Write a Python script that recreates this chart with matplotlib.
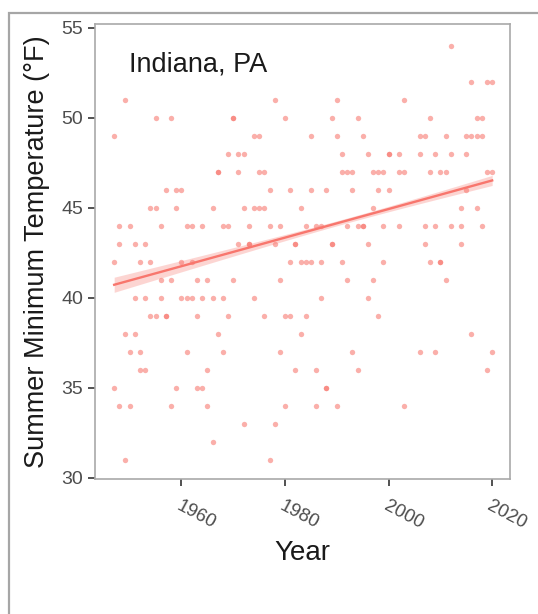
import numpy as np
import matplotlib
matplotlib.use("Agg")
import matplotlib.pyplot as plt
from matplotlib.patches import Rectangle

# ---- data ----
years = [1947, 1948, 1949, 1950, 1951, 1952, 1953, 1954, 1955, 1956,
         1957, 1958, 1959, 1960, 1961, 1962, 1963, 1964, 1965, 1966,
         1967, 1968, 1969, 1970, 1971, 1972, 1973, 1974, 1975, 1976,
         1977, 1978, 1979, 1980, 1981, 1982, 1983, 1984, 1985, 1986,
         1987, 1988, 1989, 1990, 1991, 1992, 1993, 1994, 1995, 1996,
         1997, 1998, 1999, 2000, 2002, 2003, 2006, 2007, 2008, 2009,
         2010, 2011, 2012, 2014, 2015, 2016, 2017, 2018, 2019, 2020]

summer_min = [(49, 42, 35), (44, 43, 34), (51, 38, 31), (44, 37, 34), (43, 40, 38),
              (42, 37, 36), (43, 40, 36), (45, 42, 39), (50, 45, 39), (44, 41, 40),
              (46, 39, 39), (50, 41, 34), (46, 45, 35), (46, 42, 40), (44, 40, 37),
              (44, 42, 40), (41, 39, 35), (44, 40, 35), (41, 36, 34), (45, 40, 32),
              (47, 47, 38), (44, 40, 37), (48, 44, 39), (50, 50, 41), (48, 47, 43),
              (48, 45, 33), (44, 43, 43), (49, 45, 40), (49, 47, 45), (47, 45, 39),
              (46, 44, 31), (51, 43, 33), (44, 41, 37), (50, 39, 34), (46, 42, 39),
              (43, 43, 36), (45, 42, 38), (44, 42, 39), (49, 46, 42), (44, 36, 34),
              (44, 42, 40), (46, 35, 35), (50, 43, 43), (51, 49, 34), (48, 47, 42),
              (47, 44, 41), (47, 46, 37), (50, 44, 36), (49, 44, 44), (48, 43, 40),
              (47, 45, 41), (47, 46, 39), (47, 44, 42), (48, 48, 46), (48, 47, 44),
              (51, 47, 34), (49, 48, 37), (49, 44, 43), (50, 47, 42), (48, 44, 37),
              (47, 42, 42), (49, 47, 41), (54, 48, 44), (45, 44, 43), (49, 48, 46),
              (52, 49, 38), (50, 49, 45), (50, 49, 44), (52, 47, 36), (52, 47, 37)]

# trend line as drawn in the reference
trend_years = [1947, 2020]
trend_values = [40.72, 46.52]
# half-width of the confidence band read at three years
band_years = [1947, 1985, 2020]
band_halfwidth = [0.42, 0.15, 0.28]

title_text = "Indiana, PA"
x_label = "Year"
y_label = "Summer Minimum Temperature (°F)"
x_ticks = [1960, 1980, 2000, 2020]
y_ticks = [30, 35, 40, 45, 50, 55]

# ---- prepare ----
x = np.repeat(np.array(years, dtype=float), 3)
y = np.array(summer_min, dtype=float).ravel()

plt.rcParams['font.family'] = ['Liberation Sans', 'DejaVu Sans']

W, H = 538, 614
fig = plt.figure(figsize=(W / 100, H / 100), dpi=100)
fig.patch.set_facecolor('white')

# outer frame
fig.add_artist(Rectangle((8.5 / W, -0.1), 1.2, 1 - 12.5 / H + 0.1,
                         transform=fig.transFigure, fill=False,
                         edgecolor='#a6a6a6', linewidth=1.6))

ax = fig.add_axes([94.5 / W, 1 - 478.5 / H, (510.3 - 94.5) / W, (478.5 - 24.3) / H])
ax.set_facecolor('white')

col = '#F8766D'
ax.scatter(x, y, s=15, color=col, alpha=0.58, linewidths=0, zorder=2)

# trend line and band
xs = np.linspace(trend_years[0], trend_years[1], 200)
slope = (trend_values[1] - trend_values[0]) / (trend_years[1] - trend_years[0])
ys = trend_values[0] + slope * (xs - trend_years[0])
hw2 = np.polyfit(band_years, np.array(band_halfwidth) ** 2, 2)
hw = np.sqrt(np.clip(np.polyval(hw2, xs), 0.01, None))
ax.fill_between(xs, ys - hw, ys + hw, color=col, alpha=0.3, linewidth=0, zorder=3)
ax.plot(xs, ys, color=col, linewidth=1.7, zorder=4)

ax.set_xlim(1943.2, 2023.5)
ax.set_ylim(29.95, 55.2)
ax.set_xticks(x_ticks)
ax.set_yticks(y_ticks)
ax.set_xticklabels([str(t) for t in x_ticks], rotation=-28, ha='left', va='top',
                   rotation_mode='anchor', color='#4d4d4d', fontsize=13.5)
ax.set_yticklabels([str(t) for t in y_ticks], color='#4d4d4d', fontsize=14)
ax.tick_params(axis='both', direction='out', length=5, width=1.2, color='#333333')
ax.tick_params(axis='x', pad=9)
ax.tick_params(axis='y', pad=3)
for sp in ax.spines.values():
    sp.set_color('#a9a9a9')
    sp.set_linewidth(1.2)

ax.set_xlabel(x_label, fontsize=20, color='#1a1a1a', labelpad=5)
ax.set_ylabel(y_label, fontsize=19.5, color='#1a1a1a', labelpad=8)

ax.text(1949.8, 52.95, title_text, fontsize=19.5, color='#1a1a1a', ha='left', va='center')

fig.savefig('out.png', dpi=100)
